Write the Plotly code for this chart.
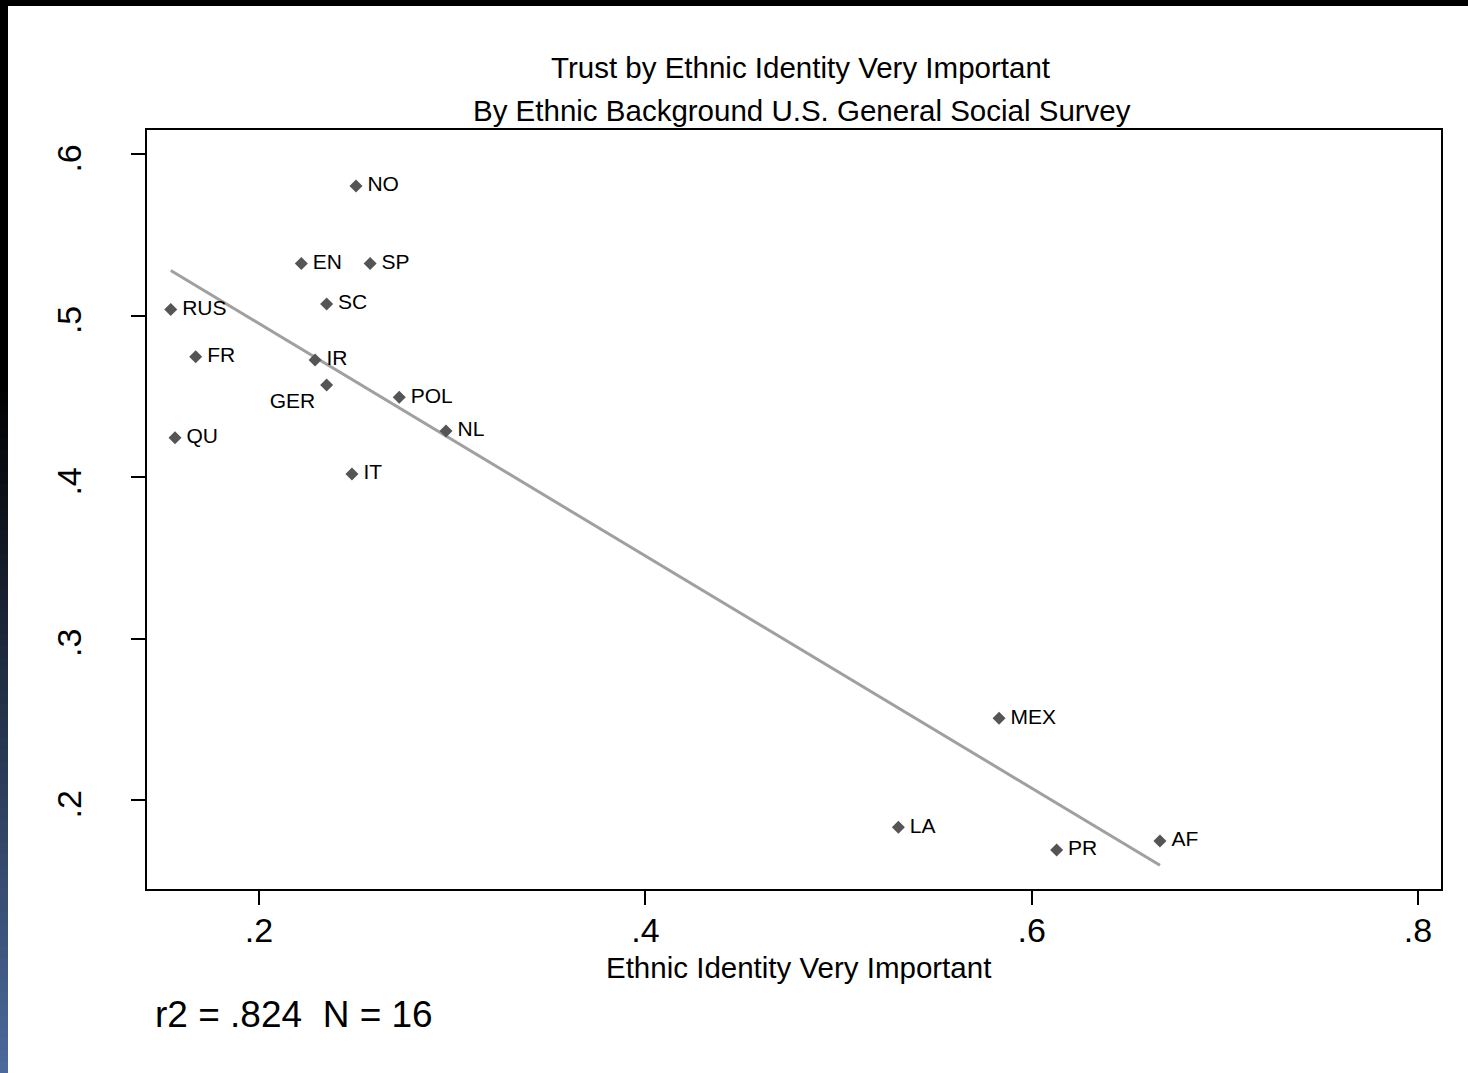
import numpy as np
import plotly.graph_objects as go

# Ethnic background groups, U.S. General Social Survey
groups = ["NO", "EN", "SP", "SC", "RUS", "FR", "IR", "GER",
          "POL", "QU", "NL", "IT", "MEX", "LA", "PR", "AF"]
ethnic_very_important = [0.2502, 0.2219, 0.2575, 0.2350, 0.1543, 0.1672, 0.2290, 0.2350,
                         0.2726, 0.1565, 0.2968, 0.2481, 0.5831, 0.5310, 0.6129, 0.6664]
trust = [0.5802, 0.5323, 0.5323, 0.5071, 0.5038, 0.4745, 0.4724, 0.4570,
         0.4494, 0.4243, 0.4285, 0.4019, 0.2506, 0.1831, 0.1690, 0.1746]

x_ticks = [0.2, 0.4, 0.6, 0.8]
x_tick_text = [".2", ".4", ".6", ".8"]
y_ticks = [0.2, 0.3, 0.4, 0.5, 0.6]
y_tick_text = [".2", ".3", ".4", ".5", ".6"]

title_lines = ["Trust by Ethnic Identity Very Important",
               "By Ethnic Background U.S. General Social Survey"]
x_title = "Ethnic Identity Very Important"
note = "r2 = .824\u00a0\u00a0N = 16"

FONT = "Arial, 'Liberation Sans', sans-serif"
W, H = 1468, 1073
ML, MR, MT, MB = 147, 27, 130, 184

x = np.array(ethnic_very_important)
y = np.array(trust)

# least-squares fit line across the observed x span
slope, intercept = np.polyfit(x, y, 1)
fit_x = np.array([x.min(), x.max()])
fit_y = intercept + slope * fit_x

# labels sit to the right of their marker, GER below-left
label_pos = ["bottom left" if g == "GER" else "middle right" for g in groups]
label_text = [g + "\u2009" if g == "GER" else "\u2009" + g for g in groups]

fig = go.Figure()
fig.add_trace(go.Scatter(
    x=fit_x, y=fit_y, mode="lines",
    line=dict(color="#a0a0a0", width=3),
    hoverinfo="skip", showlegend=False,
))
fig.add_trace(go.Scatter(
    x=x, y=y, mode="markers+text",
    text=label_text, textposition=label_pos,
    textfont=dict(family=FONT, size=21, color="#000000"),
    marker=dict(symbol="diamond", size=10, color="#555555"),
    showlegend=False,
))

# pixel -> paper helpers for the decorations outside the plot area
def px(v):
    return (v - ML) / (W - ML - MR)

def py(v):
    return 1 - (v - MT) / (H - MT - MB)

shapes = [
    dict(type="rect", xref="paper", yref="paper", x0=px(0), x1=px(W), y0=py(0), y1=py(6),
         fillcolor="#000000", line=dict(width=0), layer="above"),
]
# dark left edge fading from black into slate blue toward the bottom
n_bands = 60
start = 380
c0 = np.array([0, 0, 0])
c1 = np.array([76, 106, 156])
for i in range(n_bands):
    y0 = start + (H - start) * i / n_bands
    y1 = start + (H - start) * (i + 1) / n_bands + 1
    t = (i + 0.5) / n_bands
    c = (c0 + (c1 - c0) * t).astype(int)
    shapes.append(dict(type="rect", xref="paper", yref="paper",
                       x0=px(0), x1=px(8), y0=py(y0), y1=py(y1),
                       fillcolor=f"rgb({c[0]},{c[1]},{c[2]})", line=dict(width=0), layer="above"))
shapes.append(dict(type="rect", xref="paper", yref="paper", x0=px(0), x1=px(8),
                   y0=py(0), y1=py(start + 1), fillcolor="#000000", line=dict(width=0), layer="above"))

annotations = [
    dict(text=title_lines[0], xref="paper", yref="paper", x=px(800), y=py(67),
         showarrow=False, font=dict(family=FONT, size=29.5, color="#000000"),
         xanchor="center", yanchor="middle"),
    dict(text=title_lines[1], xref="paper", yref="paper", x=px(802), y=py(110),
         showarrow=False, font=dict(family=FONT, size=29.5, color="#000000"),
         xanchor="center", yanchor="middle"),
    dict(text=x_title, xref="paper", yref="paper", x=px(798), y=py(968),
         showarrow=False, font=dict(family=FONT, size=29.5, color="#000000"),
         xanchor="center", yanchor="middle"),
    dict(text=note, xref="paper", yref="paper", x=px(153), y=py(1014),
         showarrow=False, font=dict(family=FONT, size=37, color="#000000"),
         xanchor="left", yanchor="middle"),
]

fig.update_layout(
    width=W, height=H,
    margin=dict(l=ML, r=MR, t=MT, b=MB, pad=0),
    paper_bgcolor="#ffffff", plot_bgcolor="#ffffff",
    shapes=shapes, annotations=annotations,
    font=dict(family=FONT, color="#000000"),
)
fig.update_xaxes(
    range=[0.142, 0.8119], tickvals=x_ticks, ticktext=x_tick_text,
    showgrid=False, zeroline=False,
    showline=True, linecolor="#000000", linewidth=2, mirror=True,
    ticks="outside", ticklen=14, tickwidth=2, tickcolor="#000000",
    tickfont=dict(family=FONT, size=34, color="#000000"),
    ticklabelstandoff=-4,
)
fig.update_yaxes(
    range=[0.1449, 0.6149], tickvals=y_ticks,
    ticktext=[t + "\u00a0\u00a0" for t in y_tick_text],
    showgrid=False, zeroline=False,
    showline=True, linecolor="#000000", linewidth=2, mirror=True,
    ticks="outside", ticklen=14, tickwidth=2, tickcolor="#000000",
    tickfont=dict(family=FONT, size=34, color="#000000"),
    tickangle=-90, ticklabelstandoff=36,
)

fig.write_html("out.html")
